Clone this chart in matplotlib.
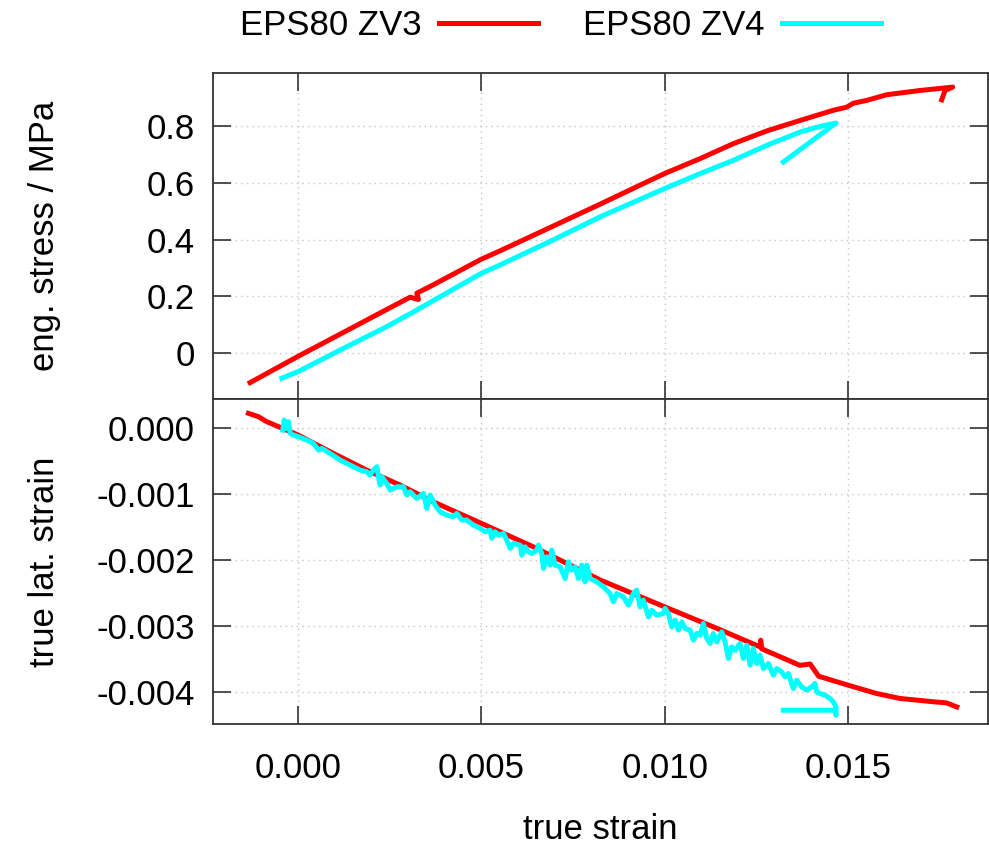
import matplotlib
matplotlib.use("Agg")
import matplotlib.pyplot as plt

plt.rcParams['font.family'] = ['Liberation Sans', 'DejaVu Sans']

# EPS80 ZV3: true strain vs. engineering stress (MPa)
zv3_strain = [-0.00131, 0.0, 0.001418, 0.002555, 0.003055, 0.003282, 0.003237, 0.003691,
              0.004992, 0.00551, 0.0069, 0.008238, 0.009993, 0.010966, 0.011874, 0.012785,
              0.013694, 0.014602, 0.014967, 0.015148, 0.015513, 0.016058, 0.016967, 0.017858,
              0.017649, 0.017558]
zv3_stress = [-0.106, -0.013, 0.084, 0.162, 0.196, 0.188, 0.21, 0.240,
              0.330, 0.360, 0.444, 0.525, 0.633, 0.686, 0.739, 0.784,
              0.821, 0.857, 0.868, 0.882, 0.892, 0.912, 0.927, 0.939,
              0.927, 0.894]

# EPS80 ZV4: true strain vs. engineering stress (MPa)
zv4_strain = [-0.000445, 0.0, 0.001418, 0.002419, 0.003146, 0.004992, 0.00551, 0.0069,
              0.008238, 0.009993, 0.010966, 0.011874, 0.012785, 0.013694, 0.014239, 0.014675,
              0.013238]
zv4_stress = [-0.0905, -0.067, 0.027, 0.092, 0.144, 0.280, 0.31, 0.395,
              0.48, 0.58, 0.633, 0.68, 0.733, 0.78, 0.80, 0.812,
              0.674]

# EPS80 ZV3: true strain vs. true lateral strain
zv3_lat_x = [-0.001356, -0.00108, -0.00085, 0.0, 0.00096, 0.00187, 0.00278, 0.00369,
             0.005, 0.00642, 0.00824, 0.01, 0.01142, 0.0126, 0.01262, 0.01265,
             0.01369, 0.01397, 0.0142, 0.01501, 0.01578, 0.01642, 0.01733, 0.01769,
             0.01797]
zv3_lat_y = [0.000218, 0.000166, 0.00009, -0.00011, -0.000387, -0.00064, -0.000866, -0.00112,
             -0.001445, -0.0018, -0.0023, -0.002706, -0.00303, -0.00331, -0.00321, -0.00334,
             -0.00359, -0.00357, -0.003754, -0.00389, -0.004015, -0.00409, -0.00414, -0.004157,
             -0.004218]

# EPS80 ZV4: true strain vs. true lateral strain
zv4_lat_x = [-0.000418, -0.000382, -0.000327, -0.000264, -0.000218, -0.000127, 0.000009, 0.000236,
             0.000418, 0.000555, 0.000646, 0.000873, 0.001146, 0.001418, 0.001691, 0.001873,
             0.001964, 0.002055, 0.002146, 0.002191, 0.002237, 0.002282, 0.002419, 0.00251,
             0.002691, 0.002873, 0.002964, 0.003055, 0.003237, 0.003419, 0.00351, 0.003601,
             0.003737, 0.003873, 0.004055, 0.004237, 0.004328, 0.004465, 0.004601, 0.004783,
             0.004965, 0.005101, 0.005237, 0.005283, 0.005374, 0.005465, 0.005601, 0.005692,
             0.005783, 0.005874, 0.006056, 0.006101, 0.006192, 0.006283, 0.006374, 0.006511,
             0.006556, 0.006647, 0.006692, 0.006783, 0.006874, 0.006919, 0.00701, 0.007147,
             0.007283, 0.007374, 0.007465, 0.007556, 0.007647, 0.007738, 0.007829, 0.007874,
             0.007965, 0.008147, 0.008329, 0.00851, 0.008601, 0.008692, 0.008874, 0.00901,
             0.009147, 0.009238, 0.009329, 0.009419, 0.009556, 0.009647, 0.009784, 0.009965,
             0.010011, 0.010101, 0.010193, 0.010284, 0.010374, 0.010466, 0.010557, 0.010693,
             0.010783, 0.010876, 0.010966, 0.011056, 0.011148, 0.011238, 0.011329, 0.011421,
             0.011557, 0.011648, 0.011738, 0.01183, 0.01192, 0.012057, 0.012147, 0.01224,
             0.01233, 0.01242, 0.012512, 0.012602, 0.012693, 0.012829, 0.012965, 0.013058,
             0.013194, 0.013284, 0.013374, 0.013511, 0.013603, 0.01374, 0.013876, 0.014012,
             0.014103, 0.014149, 0.014239, 0.014375, 0.014512, 0.014602, 0.014675, 0.014675,
             0.014648, 0.013238]
zv4_lat_y = [-0.000035, 0.000116, -0.00001, 0.000091, -0.000085, -0.00011, -0.000136, -0.000186,
             -0.000236, -0.000337, -0.000312, -0.000388, -0.000488, -0.000564, -0.00064, -0.000665,
             -0.000715, -0.00064, -0.00059, -0.00074, -0.000866, -0.00074, -0.000841, -0.000942,
             -0.000892, -0.000892, -0.001017, -0.000967, -0.001068, -0.000992, -0.001219, -0.001017,
             -0.001169, -0.00127, -0.00132, -0.001345, -0.001294, -0.001395, -0.001395, -0.001471,
             -0.001521, -0.001572, -0.001547, -0.001672, -0.001572, -0.001622, -0.001597, -0.001698,
             -0.001823, -0.001748, -0.001773, -0.001924, -0.001799, -0.001875, -0.001899, -0.001849,
             -0.001773, -0.001899, -0.002125, -0.00195, -0.002076, -0.001849, -0.002076, -0.002101,
             -0.002277, -0.002026, -0.002151, -0.002101, -0.002277, -0.002076, -0.002328, -0.002076,
             -0.002277, -0.002328, -0.002404, -0.002504, -0.00263, -0.002504, -0.002555, -0.00268,
             -0.002504, -0.002454, -0.002706, -0.002605, -0.002857, -0.002756, -0.002831, -0.002806,
             -0.00273, -0.002806, -0.003008, -0.002907, -0.003058, -0.002933, -0.003033, -0.003058,
             -0.003209, -0.003108, -0.003134, -0.002957, -0.003184, -0.003259, -0.003108, -0.003235,
             -0.003084, -0.003235, -0.003486, -0.003311, -0.003361, -0.003259, -0.003486, -0.003285,
             -0.003587, -0.003335, -0.003562, -0.003436, -0.003637, -0.003562, -0.003738, -0.003637,
             -0.003689, -0.003764, -0.003713, -0.00394, -0.003814, -0.003915, -0.003965, -0.003915,
             -0.003864, -0.003991, -0.004015, -0.004041, -0.004091, -0.004142, -0.004218, -0.004343,
             -0.004268, -0.004268]

x_ticks = [0.0, 0.005, 0.010, 0.015]
x_labels = ['0.000', '0.005', '0.010', '0.015']
stress_ticks = [0.0, 0.2, 0.4, 0.6, 0.8]
stress_labels = ['0', '0.2', '0.4', '0.6', '0.8']
lat_ticks = [0.0, -0.001, -0.002, -0.003, -0.004]
lat_labels = ['0.000', '-0.001', '-0.002', '-0.003', '-0.004']

red = '#ff0000'
cyan = '#00ffff'
fs = 25

fig = plt.figure(figsize=(9.89, 8.47), dpi=100)
ax1 = fig.add_axes([0.2151, 0.5286, 0.7842, 0.3856])
ax2 = fig.add_axes([0.2151, 0.1449, 0.7842, 0.3837])

l1, = ax1.plot(zv3_strain, zv3_stress, color=red, lw=3.6)
l2, = ax1.plot(zv4_strain, zv4_stress, color=cyan, lw=3.6)
ax2.plot(zv3_lat_x, zv3_lat_y, color=red, lw=3.6)
ax2.plot(zv4_lat_x, zv4_lat_y, color=cyan, lw=3.6)

for ax in (ax1, ax2):
    ax.set_xlim(-0.00233, 0.01883)
    ax.set_xticks(x_ticks)
    ax.tick_params(direction='in', length=13, width=1.2, top=True, right=True,
                   labelsize=fs, colors='#333333', labelcolor='black')
    ax.tick_params(axis='x', pad=20)
    ax.tick_params(axis='y', pad=13)
    ax.grid(True, linestyle=(0, (1, 3)), color='#c4c4c4', linewidth=1)
    for s in ax.spines.values():
        s.set_color('#333333')
        s.set_linewidth(1.3)

ax1.set_ylim(-0.165, 0.99)
ax1.set_yticks(stress_ticks)
ax1.set_yticklabels(stress_labels)
ax1.tick_params(labelbottom=False)

ax2.set_ylim(-0.00448, 0.00043)
ax2.set_yticks(lat_ticks)
ax2.set_yticklabels(lat_labels)
ax2.set_xticklabels(x_labels)

fig.text(0.0455, 0.722, 'eng. stress / MPa', rotation=90, ha='center', va='center', fontsize=fs)
fig.text(0.0455, 0.337, 'true lat. strain', rotation=90, ha='center', va='center', fontsize=fs)
fig.text(0.607, 0.021, 'true strain', ha='center', va='center', fontsize=fs)

fig.legend([l1, l2], ['EPS80 ZV3', 'EPS80 ZV4'], loc='center', bbox_to_anchor=(0.5665, 0.970),
           ncol=2, frameon=False, markerfirst=False, handlelength=2.85, handletextpad=0.5,
           columnspacing=1.3, fontsize=fs)

fig.savefig('out.png', dpi=100)
